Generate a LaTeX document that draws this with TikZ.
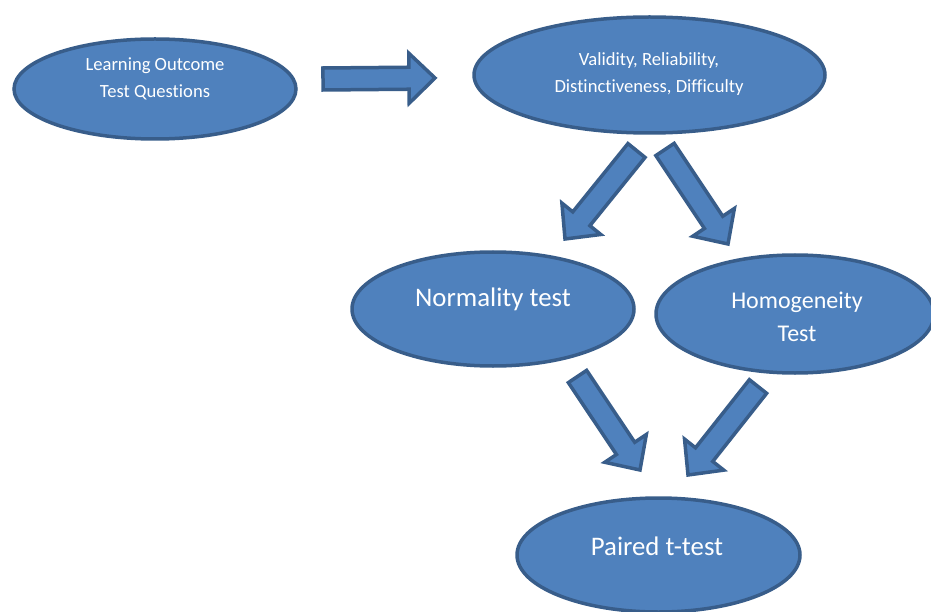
\documentclass[tikz,border=0pt]{standalone}
\usepackage{fontspec}
\setmainfont{Carlito}[Ligatures=NoCommon]
\usetikzlibrary{shapes.geometric,calc}
\definecolor{fillblue}{HTML}{4F81BD}
\definecolor{edgeblue}{HTML}{385D8A}
\tikzset{
  ell/.style={ellipse, fill=fillblue, draw=edgeblue, line width=3.5pt, inner sep=0pt, outer sep=0pt},
  smalltxt/.style={text=white, align=center, font=\fontsize{18.6}{27}\selectfont},
  bigtxt/.style={text=white, align=center, font=\fontsize{26.8}{33}\selectfont},
  arr/.style={fill=fillblue, draw=edgeblue, line width=3.5pt, line join=miter},
}
\newcommand\blockarrow[2]{%
  \coordinate (hb) at ($(#2)!26pt!(#1)$);
  \draw[arr] ($(#1)!11pt!90:(#2)$) -- ($(hb)!11pt!90:(#2)$) -- ($(hb)!25pt!90:(#2)$) -- (#2)
    -- ($(hb)!25pt!-90:(#2)$) -- ($(hb)!11pt!-90:(#2)$) -- ($(#1)!11pt!-90:(#2)$) -- cycle;
}
\begin{document}
\begin{tikzpicture}[x=1pt,y=-1pt]
\useasboundingbox (0,0) rectangle (931,612);
% ellipses
\node[ell, minimum width=282pt, minimum height=100pt] (e1) at (155,89) {};
\node[smalltxt] at (155,79) {Learning Outcome\\Test Questions};
\node[ell, minimum width=351pt, minimum height=116pt] (e2) at (649.5,75) {};
\node[smalltxt] at (649,74) {Validity, Reliability,\\Distinctiveness, Difficulty};
\node[ell, minimum width=282pt, minimum height=114pt] (e3) at (493,309) {};
\node[bigtxt] at (493,299) {Normality test};
\node[ell, minimum width=278pt, minimum height=118pt] (e4) at (795,314) {};
\node[bigtxt, font=\fontsize{24}{33}\selectfont] at (797,317) {Homogeneity\\Test};
\node[ell, minimum width=283pt, minimum height=114pt] (e5) at (658.5,555) {};
\node[bigtxt] at (657,546) {Paired t-test};
% arrows
\coordinate (r1) at (323,79);
\coordinate (r2) at (435,78);
\blockarrow{r1}{r2}
\coordinate (a1) at (636.5,150.5);
\coordinate (a2) at (565,239);
\blockarrow{a1}{a2}
\coordinate (b1) at (665,149.5);
\coordinate (b2) at (728,244);
\blockarrow{b1}{b2}
\coordinate (c1) at (577.5,376.5);
\coordinate (c2) at (640,470);
\blockarrow{c1}{c2}
\coordinate (d1) at (758,386.5);
\coordinate (d2) at (688,475);
\blockarrow{d1}{d2}
\end{tikzpicture}
\end{document}
